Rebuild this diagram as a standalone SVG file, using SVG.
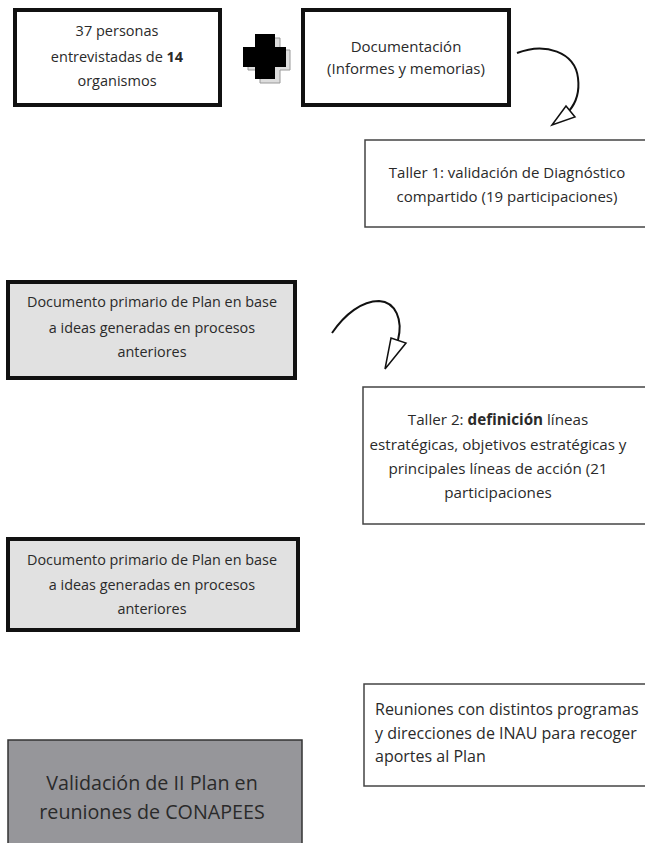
<svg xmlns="http://www.w3.org/2000/svg" width="645" height="843" viewBox="0 0 645 843">
<defs>
<style>
.thick{fill:#fff;stroke:#111;stroke-width:4}
.thin{fill:#fff;stroke:#444;stroke-width:1.5}
.gray{fill:#e1e1e1;stroke:#111;stroke-width:4}
.dark{fill:#96969a;stroke:#333;stroke-width:1.5}
.t{font-family:"Open Sans","Liberation Sans",sans-serif;fill:#2a2a2a;text-anchor:middle}
.tl{font-family:"Open Sans","Liberation Sans",sans-serif;fill:#2a2a2a}
.conn{fill:none;stroke:#111;stroke-width:2}
.head{fill:#fff;stroke:#111;stroke-width:1.5;stroke-linejoin:miter}
</style>
</defs>
<rect width="645" height="843" fill="#fff"/>
<g id="n1">
<rect class="thick" x="15" y="10" width="205" height="95"/>
<text class="t" font-size="14.5" x="117" y="36">37 personas</text>
<text class="t" font-size="14.5" x="117" y="62">entrevistadas de <tspan font-weight="bold">14</tspan></text>
<text class="t" font-size="14.5" x="117" y="86">organismos</text>
</g>
<g id="plus">
<path d="M260,38 h20 v12 h10 v20 h-10 v13 h-20 v-13 h-12 v-20 h12 z" fill="#ddd" stroke="#999" stroke-width="1"/>
<path d="M255,34 h20 v13 h11 v20 h-11 v12 h-20 v-12 h-12 v-20 h12 z" fill="#000"/>
</g>
<g id="n2">
<rect class="thick" x="303" y="10" width="206" height="95"/>
<text class="t" font-size="15" x="406" y="52">Documentación</text>
<text class="t" font-size="15" x="406" y="74">(Informes y memorias)</text>
</g>
<g id="n3">
<rect class="thin" x="365" y="140" width="290" height="87"/>
<text class="t" font-size="15" x="507" y="178">Taller 1: validación de Diagnóstico</text>
<text class="t" font-size="15" x="507" y="202">compartido (19 participaciones)</text>
</g>
<g id="n4">
<rect class="gray" x="8" y="282" width="287" height="96"/>
<text class="t" font-size="14.4" x="152" y="307">Documento primario de Plan en base</text>
<text class="t" font-size="14.4" x="152" y="333">a ideas generadas en procesos</text>
<text class="t" font-size="14.4" x="152" y="357">anteriores</text>
</g>
<g id="n5">
<rect class="thin" x="363" y="387" width="292" height="137"/>
<text class="t" font-size="15.2" x="498" y="425">Taller 2: <tspan font-weight="bold">definición</tspan> líneas</text>
<text class="t" font-size="15.2" x="498" y="450">estratégicas, objetivos estratégicas y</text>
<text class="t" font-size="15.2" x="498" y="474">principales líneas de acción (21</text>
<text class="t" font-size="15.2" x="498" y="498">participaciones</text>
</g>
<g id="n6">
<rect class="gray" x="8" y="539" width="290" height="91"/>
<text class="t" font-size="14.4" x="152" y="565">Documento primario de Plan en base</text>
<text class="t" font-size="14.4" x="152" y="590">a ideas generadas en procesos</text>
<text class="t" font-size="14.4" x="152" y="614">anteriores</text>
</g>
<g id="n7">
<rect class="thin" x="364" y="684" width="291" height="102"/>
<text class="tl" font-size="16" x="375" y="715">Reuniones con distintos programas</text>
<text class="tl" font-size="16" x="375" y="739">y direcciones de INAU para recoger</text>
<text class="tl" font-size="16" x="375" y="762">aportes al Plan</text>
</g>
<g id="n8">
<rect class="dark" x="8" y="740" width="294" height="110"/>
<text class="t" font-size="19.7" x="152" y="790">Validación de II Plan en</text>
<text class="t" font-size="19.7" x="152" y="819">reuniones de CONAPEES</text>
</g>
<g id="connectors">
<path class="conn" d="M517,53 C545,42 575,52 578,78 C580,94 575,104 569,111"/>
<polygon class="head" points="552,125 566,106 575,117"/>
<path class="conn" d="M332,333 C345,314 362,301 379,301 C396,302 403,320 398,340"/>
<polygon class="head" points="385,369 391,338 406,343"/>
</g>
</svg>
